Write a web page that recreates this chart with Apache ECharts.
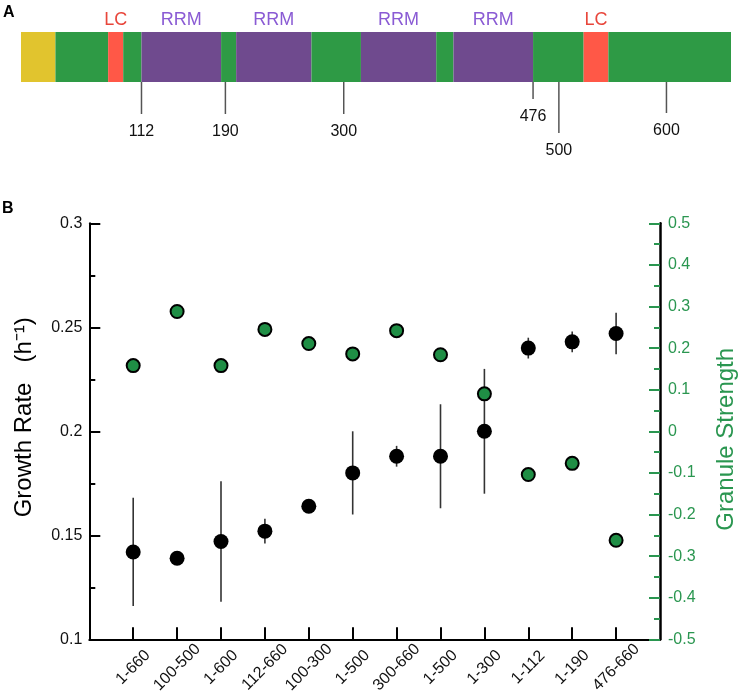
<!DOCTYPE html>
<html>
<head>
<meta charset="utf-8">
<script src="https://cdn.jsdelivr.net/npm/echarts@6/dist/echarts.min.js"></script>
<style>
html,body{margin:0;padding:0;background:#fff;}
#chart{width:746px;height:697px;}
</style>
</head>
<body>
<div id="chart"></div>
<script>
// ---------- Panel A data ----------
var proteinLength = 660;
var domainStart = [0, 32, 81, 95, 112, 186, 200, 270, 316, 386, 402, 476, 523, 546];
var domainEnd   = [32, 81, 95, 112, 186, 200, 270, 316, 386, 402, 476, 523, 546, 660];
var domainType  = ['N', 'G', 'LC', 'G', 'RRM', 'G', 'RRM', 'G', 'RRM', 'G', 'RRM', 'G', 'LC', 'G'];
var positionTicks = [112, 190, 300, 476, 500, 600];

// ---------- Panel B data ----------
var constructs = ['1-660', '100-500', '1-600', '112-660', '100-300', '1-500', '300-660', '1-500', '1-300', '1-112', '1-190', '476-660'];
var growthRate = [0.142, 0.139, 0.147, 0.152, 0.164, 0.180, 0.188, 0.188, 0.200, 0.240, 0.243, 0.247];
var growthErr  = [0.026, 0.002, 0.029, 0.006, 0.001, 0.020, 0.005, 0.025, 0.030, 0.005, 0.005, 0.010];
var granuleStrength = [0.158, 0.288, 0.158, 0.245, 0.211, 0.186, 0.242, 0.184, 0.090, -0.104, -0.077, -0.262];

// ---------- styles ----------
var FONT = 'Liberation Sans, Arial, Helvetica, sans-serif';
var domainColor = {N: '#E1C42E', G: '#2E9A45', LC: '#FF5847', RRM: '#6F4A8E'};
var domainLabelColor = {LC: '#E8463B', RRM: '#8A5BD4'};
var tickLineLength = [32, 32, 32, 17, 51, 31];
var greenText = '#2A9650';

var catData = [''].concat(constructs).concat(['']);
var growthPts = growthRate.map(function (v, i) { return [i + 1, v]; });
var granulePts = granuleStrength.map(function (v, i) { return [i + 1, v]; });
var errPts = growthRate.map(function (v, i) { return [i + 1, v - growthErr[i], v + growthErr[i]]; });
var domainData = domainStart.map(function (s, i) { return [s, domainEnd[i], i]; });
var tickData = positionTicks.map(function (p, i) { return [p, i]; });

var chart = echarts.init(document.getElementById('chart'), null, {renderer: 'canvas'});

var option = {
  animation: false,
  backgroundColor: '#fff',
  textStyle: {fontFamily: FONT},
  graphic: [
    {type: 'text', left: 3, top: 5, style: {text: 'A', font: 'bold 16px ' + FONT, fill: '#000'}},
    {type: 'text', left: 2, top: 201, style: {text: 'B', font: 'bold 16px ' + FONT, fill: '#000'}}
  ],
  grid: [
    {left: 89.3, right: 84.7, top: 223.3, bottom: 57.7, containLabel: false},
    {left: 21, right: 15, top: 32, height: 50, containLabel: false}
  ],
  xAxis: [
    {
      type: 'category', gridIndex: 0, data: catData, boundaryGap: false, position: 'bottom',
      axisLine: {show: true, onZero: false, lineStyle: {color: '#000', width: 2}},
      axisTick: {show: true, inside: true, length: 12, lineStyle: {color: '#000', width: 2},
        interval: function (idx) { return idx > 0 && idx < catData.length - 1; }},
      axisLabel: {show: true, rotate: 45, align: 'center', verticalAlign: 'middle', margin: 28,
        color: '#111', fontSize: 16, fontFamily: FONT,
        interval: function (idx) { return idx > 0 && idx < catData.length - 1; }},
      splitLine: {show: false}
    },
    {
      type: 'value', gridIndex: 1, min: 0, max: proteinLength, show: false
    }
  ],
  yAxis: [
    {
      type: 'value', gridIndex: 0, min: 0.1, max: 0.3, interval: 0.05, position: 'left',
      name: 'Growth Rate   (h\u207B\u00B9)', nameLocation: 'middle', nameGap: 53, nameRotate: 90,
      nameTextStyle: {color: '#000', fontSize: 24, fontFamily: FONT, padding: [0, 0, 0, 28]},
      axisLine: {show: true, onZero: false, lineStyle: {color: '#000', width: 2}},
      axisTick: {show: true, inside: true, length: 11, lineStyle: {color: '#000', width: 2}},
      minorTick: {show: true, splitNumber: 2, length: 6, lineStyle: {color: '#000', width: 2}},
      axisLabel: {color: '#111', fontSize: 16, fontFamily: FONT, margin: 7},
      splitLine: {show: false}
    },
    {
      type: 'value', gridIndex: 0, min: -0.5, max: 0.5, interval: 0.1, position: 'right',
      name: 'Granule Strength', nameLocation: 'middle', nameGap: 54, nameRotate: 90,
      nameTextStyle: {color: greenText, fontSize: 24, fontFamily: FONT, padding: [0, 16, 0, 0]},
      axisLine: {show: true, onZero: false, lineStyle: {color: '#000', width: 2.5}},
      axisTick: {show: true, inside: true, length: 11, lineStyle: {color: greenText, width: 2}},
      minorTick: {show: true, splitNumber: 2, length: 6, lineStyle: {color: greenText, width: 2}},
      axisLabel: {color: greenText, fontSize: 16, fontFamily: FONT, margin: 8},
      splitLine: {show: false}
    },
    {
      type: 'value', gridIndex: 1, min: 0, max: 1, show: false
    }
  ],
  series: [
    {
      type: 'custom', name: 'domains', xAxisIndex: 1, yAxisIndex: 2, clip: false,
      data: domainData,
      renderItem: function (params, api) {
        var i = api.value(2);
        var p0 = api.coord([api.value(0), 1]);
        var p1 = api.coord([api.value(1), 0]);
        var t = domainType[i];
        var children = [{
          type: 'rect',
          shape: {x: p0[0], y: p0[1], width: p1[0] - p0[0], height: p1[1] - p0[1]},
          style: {fill: domainColor[t]}
        }];
        if (domainLabelColor[t]) {
          children.push({
            type: 'text',
            style: {x: (p0[0] + p1[0]) / 2, y: p0[1] - 12, text: t, align: 'center', verticalAlign: 'middle',
              fill: domainLabelColor[t], font: '18px ' + FONT}
          });
        }
        return {type: 'group', children: children};
      }
    },
    {
      type: 'custom', name: 'positions', xAxisIndex: 1, yAxisIndex: 2, clip: false,
      data: tickData,
      renderItem: function (params, api) {
        var i = api.value(1);
        var p = api.coord([api.value(0), 0]);
        var len = tickLineLength[i];
        return {type: 'group', children: [
          {type: 'line', shape: {x1: p[0], y1: p[1], x2: p[0], y2: p[1] + len},
            style: {stroke: '#555', lineWidth: 1.5}},
          {type: 'text', style: {x: p[0], y: p[1] + len + 10, text: String(positionTicks[i]),
            align: 'center', verticalAlign: 'top', fill: '#111', font: '16px ' + FONT}}
        ]};
      }
    },
    {
      type: 'custom', name: 'error', xAxisIndex: 0, yAxisIndex: 0, z: 1,
      data: errPts,
      renderItem: function (params, api) {
        var a = api.coord([api.value(0), api.value(1)]);
        var b = api.coord([api.value(0), api.value(2)]);
        return {type: 'line', shape: {x1: a[0], y1: a[1], x2: b[0], y2: b[1]},
          style: {stroke: '#333', lineWidth: 1.6}};
      }
    },
    {
      type: 'scatter', name: 'Growth Rate', xAxisIndex: 0, yAxisIndex: 0, z: 3,
      data: growthPts, symbol: 'circle', symbolSize: 15,
      itemStyle: {color: '#000', opacity: 1}
    },
    {
      type: 'scatter', name: 'Granule Strength', xAxisIndex: 0, yAxisIndex: 1, z: 4,
      data: granulePts, symbol: 'circle', symbolSize: 13,
      itemStyle: {color: '#1F8E45', borderColor: '#000', borderWidth: 2, opacity: 1}
    }
  ]
};
chart.setOption(option);
</script>
</body>
</html>
